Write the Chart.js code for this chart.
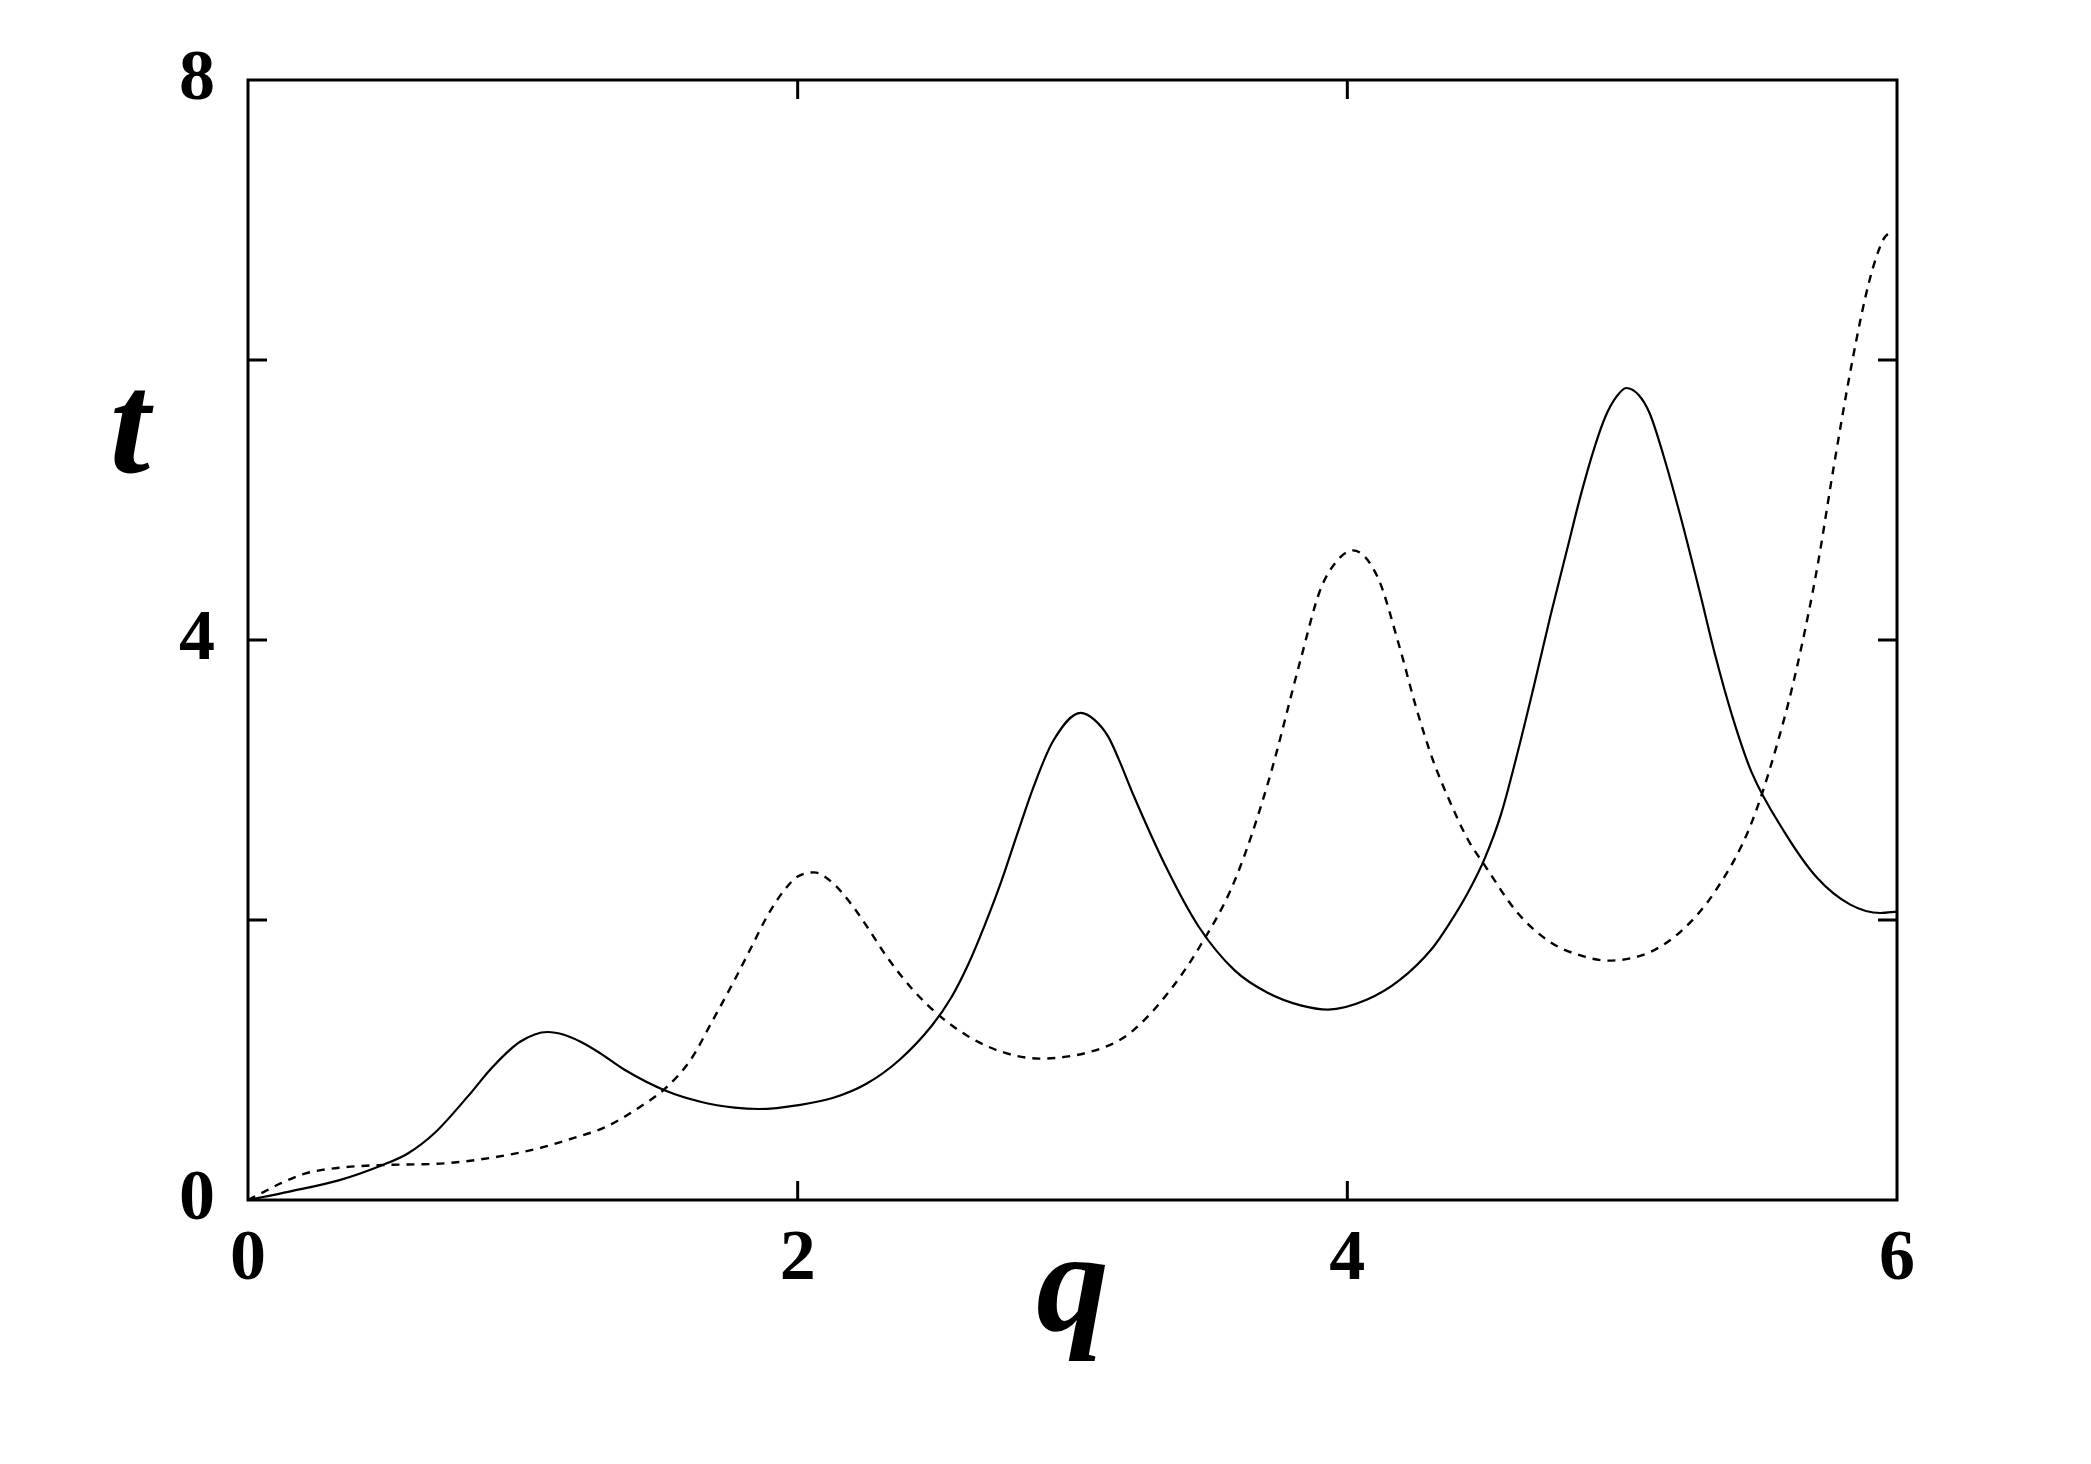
<!DOCTYPE html>
<html>
<head>
<meta charset="utf-8">
<script src="https://cdn.jsdelivr.net/npm/chart.js@4/dist/chart.umd.min.js"></script>
<style>
html, body { margin: 0; padding: 0; background: #fff; }
canvas { display: block; }
</style>
</head>
<body>
<canvas id="chart" width="2091" height="1464"></canvas>
<script>
// solid curve
const qSolid = [0, 0.15, 0.33, 0.49, 0.58, 0.68, 0.80, 0.89, 0.99, 1.09, 1.15, 1.21, 1.28, 1.37, 1.52, 1.65, 1.77, 1.86, 2.01, 2.13, 2.25, 2.37, 2.49, 2.56, 2.62, 2.68, 2.74, 2.80, 2.86, 2.93, 3.03, 3.08, 3.13, 3.17, 3.22, 3.34, 3.46, 3.59, 3.71, 3.83, 3.93, 4.07, 4.19, 4.31, 4.37, 4.44, 4.50, 4.56, 4.62, 4.68, 4.74, 4.80, 4.85, 4.90, 4.94, 4.98, 5.015, 5.06, 5.10, 5.15, 5.21, 5.28, 5.34, 5.40, 5.47, 5.59, 5.71, 5.83, 5.94, 6.0];
const tSolid = [0, 0.06, 0.14, 0.25, 0.33, 0.48, 0.74, 0.95, 1.13, 1.20, 1.18, 1.13, 1.05, 0.93, 0.78, 0.70, 0.66, 0.65, 0.68, 0.73, 0.83, 1.0, 1.25, 1.45, 1.68, 1.96, 2.27, 2.62, 2.96, 3.28, 3.48, 3.43, 3.31, 3.14, 2.90, 2.38, 1.95, 1.64, 1.48, 1.39, 1.36, 1.43, 1.57, 1.80, 1.97, 2.20, 2.44, 2.76, 3.20, 3.68, 4.18, 4.65, 5.04, 5.38, 5.60, 5.74, 5.80, 5.75, 5.62, 5.32, 4.90, 4.36, 3.88, 3.46, 3.06, 2.63, 2.30, 2.11, 2.05, 2.06];

// dashed curve
const qDashed = [0, 0.06, 0.12, 0.21, 0.33, 0.49, 0.70, 0.88, 1.06, 1.18, 1.30, 1.43, 1.52, 1.61, 1.69, 1.77, 1.83, 1.89, 1.95, 2.00, 2.06, 2.13, 2.20, 2.26, 2.32, 2.42, 2.52, 2.62, 2.74, 2.88, 3.0, 3.10, 3.16, 3.22, 3.34, 3.46, 3.59, 3.71, 3.83, 3.90, 3.96, 4.02, 4.11, 4.19, 4.25, 4.31, 4.37, 4.44, 4.50, 4.62, 4.74, 4.86, 4.95, 5.10, 5.22, 5.34, 5.47, 5.59, 5.65, 5.71, 5.77, 5.84, 5.90, 5.95, 5.98];
const tDashed = [0, 0.06, 0.12, 0.19, 0.23, 0.25, 0.26, 0.30, 0.37, 0.44, 0.52, 0.67, 0.80, 1.0, 1.28, 1.57, 1.80, 2.03, 2.21, 2.31, 2.34, 2.26, 2.10, 1.93, 1.75, 1.50, 1.31, 1.17, 1.06, 1.01, 1.03, 1.08, 1.13, 1.21, 1.46, 1.80, 2.28, 2.97, 3.86, 4.35, 4.56, 4.64, 4.45, 3.95, 3.52, 3.15, 2.86, 2.57, 2.39, 2.05, 1.84, 1.74, 1.71, 1.77, 1.93, 2.21, 2.69, 3.44, 3.93, 4.52, 5.24, 6.02, 6.57, 6.86, 6.92];

const xTicks = [0, 2, 4, 6];
const yTicks = [0, 4, 8];
const xMarks = [2, 4];
const yMarks = [2, 4, 6];

const toPoints = (xs, ys) => xs.map((v, i) => ({ x: v, y: ys[i] }));

// frame, inward tick marks and the axis letters
const framePlugin = {
    id: 'frame',
    afterDatasetsDraw(chart) {
        const { ctx, chartArea: a, scales: { x, y } } = chart;
        const len = 19;
        ctx.save();
        ctx.strokeStyle = '#000';
        ctx.lineWidth = 3;
        ctx.strokeRect(a.left, a.top, a.right - a.left, a.bottom - a.top);
        ctx.beginPath();
        xMarks.forEach(v => {
            const px = x.getPixelForValue(v);
            ctx.moveTo(px, a.bottom); ctx.lineTo(px, a.bottom - len);
            ctx.moveTo(px, a.top); ctx.lineTo(px, a.top + len);
        });
        yMarks.forEach(v => {
            const py = y.getPixelForValue(v);
            ctx.moveTo(a.left, py); ctx.lineTo(a.left + len, py);
            ctx.moveTo(a.right, py); ctx.lineTo(a.right - len, py);
        });
        ctx.stroke();

        ctx.fillStyle = '#000';
        ctx.font = 'italic bold 145px "Liberation Serif"';
        ctx.textAlign = 'center';
        ctx.textBaseline = 'alphabetic';
        ctx.fillText('t', a.left - 118, a.top + 392);
        ctx.fillText('q', (a.left + a.right) / 2, a.bottom + 130);
        ctx.restore();
    }
};

const tickFont = { family: '"Liberation Serif"', size: 72, weight: 'bold' };

new Chart(document.getElementById('chart'), {
    type: 'scatter',
    data: {
        datasets: [
            {
                data: toPoints(qSolid, tSolid),
                showLine: true,
                borderColor: '#000',
                borderWidth: 2.2,
                pointRadius: 0,
                cubicInterpolationMode: 'monotone'
            },
            {
                data: toPoints(qDashed, tDashed),
                showLine: true,
                borderColor: '#000',
                borderWidth: 2.4,
                borderDash: [8, 7],
                pointRadius: 0,
                cubicInterpolationMode: 'monotone'
            }
        ]
    },
    options: {
        responsive: false,
        animation: false,
        events: [],
        layout: { padding: { left: 0, top: 80, right: 194, bottom: 0 } },
        plugins: { legend: { display: false }, tooltip: { enabled: false } },
        scales: {
            x: {
                type: 'linear',
                min: 0, max: 6,
                grid: { display: false },
                border: { display: false },
                afterFit: s => { s.height = 264; },
                afterBuildTicks: s => { s.ticks = xTicks.map(v => ({ value: v })); },
                ticks: { color: '#000', font: tickFont, padding: 9, maxRotation: 0 }
            },
            y: {
                type: 'linear',
                min: 0, max: 8,
                grid: { display: false },
                border: { display: false },
                afterFit: s => { s.width = 248; },
                afterBuildTicks: s => { s.ticks = yTicks.map(v => ({ value: v })); },
                ticks: { color: '#000', font: tickFont, padding: 25 }
            }
        }
    },
    plugins: [framePlugin]
});
</script>
</body>
</html>
